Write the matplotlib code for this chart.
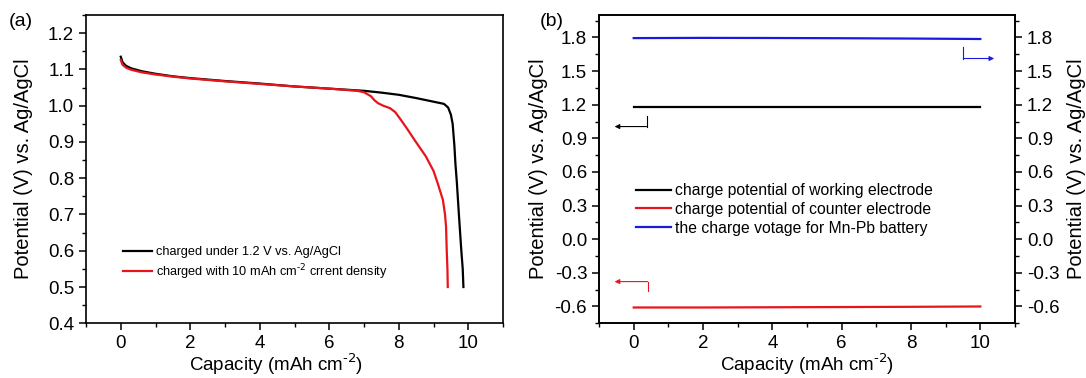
import matplotlib
matplotlib.use("Agg")
import matplotlib.pyplot as plt
from matplotlib.ticker import MultipleLocator, FormatStrFormatter

plt.rcParams["font.family"] = ["Liberation Sans", "DejaVu Sans"]

# panel (a): discharge curves
cap_black = [0, 0.05, 0.15, 0.3, 0.6, 1, 1.5, 2, 3, 4, 5, 6, 7, 7.5, 8, 8.5, 8.9,
             9.3, 9.42, 9.5, 9.55, 9.6, 9.63, 9.67, 9.73, 9.8, 9.84, 9.86]
pot_black = [1.135, 1.12, 1.11, 1.103, 1.095, 1.088, 1.081, 1.076, 1.068, 1.061, 1.053,
             1.047, 1.041, 1.036, 1.030, 1.021, 1.013, 1.005, 0.995, 0.975, 0.95, 0.89,
             0.84, 0.79, 0.70, 0.60, 0.55, 0.50]
cap_red = [0, 0.05, 0.15, 0.3, 0.6, 1, 1.5, 2, 3, 4, 5, 6, 6.8, 7.0, 7.2, 7.3, 7.4,
           7.55, 7.75, 7.9, 8.06, 8.25, 8.45, 8.78, 9.0, 9.12, 9.27, 9.33, 9.36, 9.38,
           9.40, 9.41]
pot_red = [1.126, 1.113, 1.105, 1.099, 1.092, 1.086, 1.080, 1.075, 1.067, 1.060, 1.053,
           1.047, 1.041, 1.037, 1.026, 1.015, 1.007, 1.000, 0.993, 0.982, 0.961, 0.935,
           0.906, 0.86, 0.82, 0.786, 0.74, 0.70, 0.667, 0.60, 0.55, 0.50]
labels_a = ["charged under 1.2 V vs. Ag/AgCl",
            "charged with 10 mAh cm$^{\\text{-2}}$ crrent density"]

# panel (b): charge potentials
cap_b = [0, 2, 4, 6, 8, 10]
pot_work = [1.18, 1.18, 1.18, 1.18, 1.18, 1.18]
pot_counter = [-0.609, -0.609, -0.607, -0.605, -0.603, -0.600]
volt_cell = [1.794, 1.796, 1.795, 1.793, 1.790, 1.786]
labels_b = ["charge potential of working electrode",
            "charge potential of counter electrode",
            "the charge votage for Mn-Pb battery"]

RED = "#e8141b"
BLUE = "#1a1adf"
XLABEL = "Capacity (mAh cm$^{\\text{-2}}$)"
YLABEL = "Potential (V) vs. Ag/AgCl"

fig = plt.figure(figsize=(10.86, 3.78), dpi=100)
ax1 = fig.add_axes([0.0792, 0.1447, 0.3840, 0.8156])
ax2 = fig.add_axes([0.5516, 0.1447, 0.3830, 0.8156])


def style_axis(ax):
    for s in ax.spines.values():
        s.set_linewidth(1.2)
    ax.tick_params(which="major", direction="out", length=5, width=1.1, labelsize=13.5)
    ax.tick_params(which="minor", direction="out", length=3, width=1.0)


# ---- (a)
ax1.plot(cap_black, pot_black, color="black", lw=1.6, label=labels_a[0])
ax1.plot(cap_red, pot_red, color=RED, lw=1.6, label=labels_a[1])
ax1.set_xlim(-1, 11)
ax1.set_ylim(0.4, 1.25)
ax1.xaxis.set_major_locator(MultipleLocator(2))
ax1.xaxis.set_minor_locator(MultipleLocator(1))
ax1.yaxis.set_major_locator(MultipleLocator(0.1))
ax1.yaxis.set_minor_locator(MultipleLocator(0.05))
ax1.yaxis.set_major_formatter(FormatStrFormatter("%.1f"))
style_axis(ax1)
ax1.set_xlabel(XLABEL, fontsize=13.5)
ax1.xaxis.set_label_coords(0.455, -0.093)
ax1.set_ylabel(YLABEL, fontsize=14.5)
ax1.yaxis.set_label_coords(-0.128, 0.5)
ax1.legend(loc="upper left", bbox_to_anchor=(0.088, 0.25), frameon=False,
           fontsize=9.2, handlelength=2.3, handletextpad=0.3, labelspacing=0.3,
           borderpad=0, borderaxespad=0)
fig.text(0.008, 0.965, "(a)", fontsize=14, va="top")

# ---- (b)
ax2r = ax2.twinx()
h1, = ax2.plot(cap_b, pot_work, color="black", lw=1.6)
h2, = ax2.plot(cap_b, pot_counter, color=RED, lw=1.6)
h3, = ax2r.plot(cap_b, volt_cell, color=BLUE, lw=1.6)
for ax in (ax2, ax2r):
    ax.set_xlim(-1, 11)
    ax.set_ylim(-0.75, 2.0)
    ax.yaxis.set_major_locator(MultipleLocator(0.3))
    ax.yaxis.set_minor_locator(MultipleLocator(0.15))
    ax.yaxis.set_major_formatter(FormatStrFormatter("%.1f"))
    style_axis(ax)
ax2.xaxis.set_major_locator(MultipleLocator(2))
ax2.xaxis.set_minor_locator(MultipleLocator(1))
ax2.set_xlabel(XLABEL, fontsize=13.5)
ax2.xaxis.set_label_coords(0.5, -0.093)
ax2.set_ylabel(YLABEL, fontsize=14.5)
ax2.yaxis.set_label_coords(-0.122, 0.5)
ax2r.set_ylabel(YLABEL, fontsize=14.5)
ax2r.yaxis.set_label_coords(1.125, 0.5)
ax2.legend([h1, h2, h3], labels_b, loc="upper left", bbox_to_anchor=(0.09, 0.455),
           frameon=False, fontsize=11.3, handlelength=2.2, handletextpad=0.25,
           labelspacing=0.25, borderpad=0, borderaxespad=0)
fig.text(0.497, 0.965, "(b)", fontsize=14, va="top")

# axis-pointer arrows
arrow_kw = dict(arrowstyle="-|>", mutation_scale=7, lw=0.8, shrinkA=0, shrinkB=0)
ax2.plot([0.37, 0.37], [1.10, 1.005], color="black", lw=0.8)
ax2.annotate("", xy=(-0.55, 1.005), xytext=(0.37, 1.005),
             arrowprops=dict(color="black", **arrow_kw))
ax2.plot([0.4, 0.4], [-0.465, -0.378], color=RED, lw=0.8)
ax2.annotate("", xy=(-0.55, -0.378), xytext=(0.4, -0.378),
             arrowprops=dict(color=RED, **arrow_kw))
ax2.plot([9.51, 9.51], [1.712, 1.612], color=BLUE, lw=0.8)
ax2.annotate("", xy=(10.4, 1.612), xytext=(9.51, 1.612),
             arrowprops=dict(color=BLUE, **arrow_kw))

fig.savefig("out.png", dpi=100)
